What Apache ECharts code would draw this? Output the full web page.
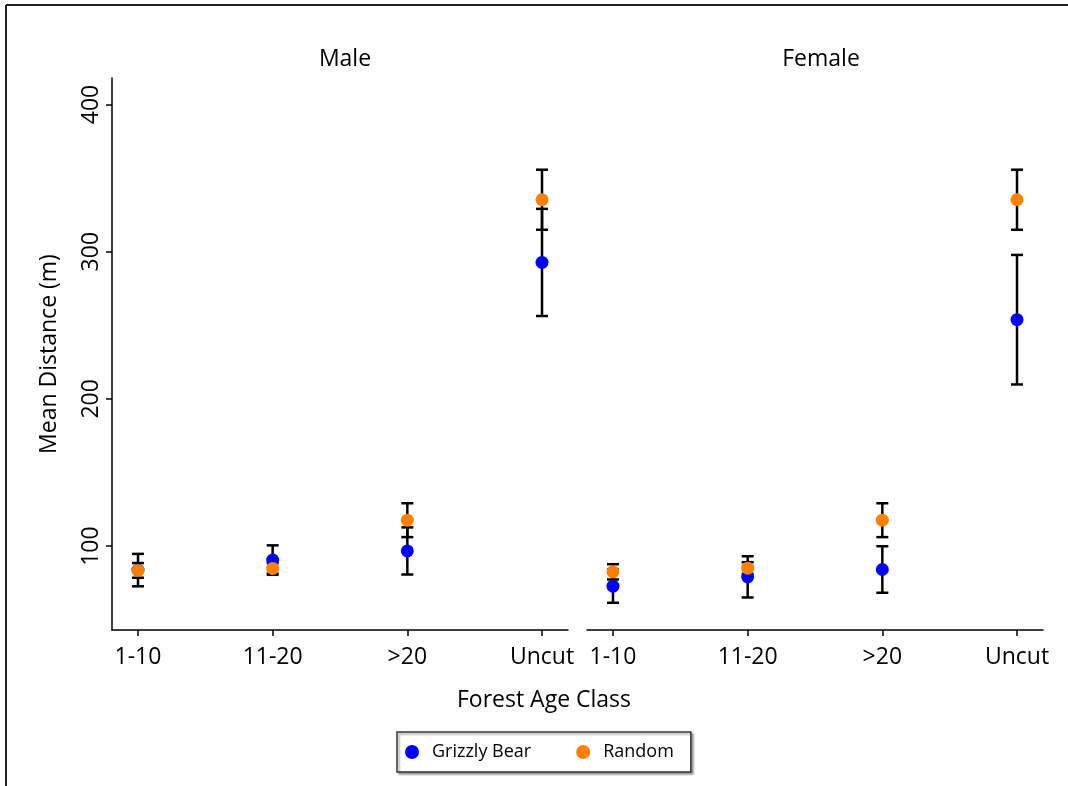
<!DOCTYPE html>
<html>
<head>
<meta charset="utf-8">
<script src="https://cdn.jsdelivr.net/npm/echarts@6/dist/echarts.min.js"></script>
<style>
html,body{margin:0;padding:0;background:#fff;}
#chart{width:1068px;height:786px;}
</style>
</head>
<body>
<div id="chart"></div>
<script>
const categories = ['1-10', '11-20', '>20', 'Uncut'];
const panelTitles = ['Male', 'Female'];
const yTicks = [100, 200, 300, 400];

const maleBear = [83.7, 90.5, 96.7, 292.7];
const maleBearErr = [11, 10, 16, 36.4];
const maleRandom = [83.5, 84.8, 117.6, 335.3];
const maleRandomErr = [5, 3.5, 11.5, 20.4];

const femaleBear = [72.8, 79.1, 84.1, 253.8];
const femaleBearErr = [11.3, 14, 15.8, 44];
const femaleRandom = [82.5, 85, 117.6, 335.3];
const femaleRandomErr = [5.2, 4, 11.5, 20.4];

const FONT = 'Open Sans';
const FS = 23;
const BLUE = '#0000FF';
const ORANGE = '#FF7F00';

function pts(vals) { return vals.map((v, i) => [i, v]); }
function errs(vals, e) { return vals.map((v, i) => [i, v - e[i], v + e[i]]); }

function errorRender(params, api) {
  const x = api.value(0);
  const lo = api.coord([x, api.value(1)]);
  const hi = api.coord([x, api.value(2)]);
  const cap = 6;
  const style = { stroke: '#000', lineWidth: 2.5 };
  return {
    type: 'group',
    children: [
      { type: 'line', shape: { x1: lo[0], y1: lo[1], x2: hi[0], y2: hi[1] }, style },
      { type: 'line', shape: { x1: lo[0] - cap, y1: lo[1], x2: lo[0] + cap, y2: lo[1] }, style },
      { type: 'line', shape: { x1: hi[0] - cap, y1: hi[1], x2: hi[0] + cap, y2: hi[1] }, style }
    ]
  };
}

const xAxisBase = {
  type: 'value',
  min: -0.193,
  max: 3.193,
  splitLine: { show: false },
  axisLine: { show: true, onZero: false, lineStyle: { color: '#000', width: 1.5 } },
  axisTick: { show: true, customValues: [0, 1, 2, 3], length: 6, lineStyle: { color: '#000', width: 1.5 } },
  axisLabel: {
    customValues: [0, 1, 2, 3],
    formatter: v => categories[Math.round(v)],
    color: '#000', fontFamily: FONT, fontSize: FS, margin: 16
  }
};

const yAxisBase = {
  type: 'value',
  min: 43,
  max: 418,
  splitLine: { show: false },
  axisLine: { show: true, onZero: false, lineStyle: { color: '#000', width: 1.5 } },
  axisTick: { show: true, customValues: yTicks, length: 6, lineStyle: { color: '#000', width: 1.5 } },
  axisLabel: {
    customValues: yTicks,
    rotate: 90,
    color: '#000', fontFamily: FONT, fontSize: FS, margin: 9
  }
};

const option = {
  backgroundColor: '#fff',
  animation: false,
  grid: [
    { left: 112, width: 456, top: 78, bottom: 156 },
    { left: 587, width: 456, top: 78, bottom: 156 }
  ],
  xAxis: [
    Object.assign({ gridIndex: 0 }, xAxisBase),
    Object.assign({ gridIndex: 1 }, xAxisBase)
  ],
  yAxis: [
    Object.assign({ gridIndex: 0, name: 'Mean Distance (m)', nameLocation: 'middle', nameGap: 51,
      nameTextStyle: { color: '#000', fontFamily: FONT, fontSize: FS } }, yAxisBase),
    Object.assign({}, yAxisBase, { gridIndex: 1, axisLine: { show: false }, axisTick: { show: false }, axisLabel: { show: false } })
  ],
  title: [
    { text: panelTitles[0], left: 340, top: 43, textAlign: 'center',
      textStyle: { color: '#000', fontFamily: FONT, fontSize: FS, fontWeight: 'normal' } },
    { text: panelTitles[1], left: 816, top: 43, textAlign: 'center',
      textStyle: { color: '#000', fontFamily: FONT, fontSize: FS, fontWeight: 'normal' } }
  ],
  legend: {
    left: 397, top: 732,
    padding: [11, 17, 11, 8],
    itemGap: 45,
    itemWidth: 14, itemHeight: 14,
    icon: 'circle',
    borderColor: '#333', borderWidth: 1.5,
    backgroundColor: '#fff',
    shadowColor: 'rgba(0,0,0,0.35)', shadowBlur: 2, shadowOffsetX: 2, shadowOffsetY: 2,
    textStyle: { color: '#000', fontFamily: FONT, fontSize: 18, padding: [0, 0, 0, 8] },
    data: ['Grizzly Bear', 'Random']
  },
  graphic: [
    { type: 'line', shape: { x1: 6, y1: 5, x2: 1068, y2: 5 }, style: { stroke: '#222', lineWidth: 2 } },
    { type: 'line', shape: { x1: 6, y1: 5, x2: 6, y2: 786 }, style: { stroke: '#222', lineWidth: 2 } },
    { type: 'text', x: 544, y: 700,
      style: { text: 'Forest Age Class', fill: '#000', font: FS + 'px "Open Sans"', textAlign: 'center', textVerticalAlign: 'middle' } }
  ],
  series: [
    { type: 'custom', xAxisIndex: 0, yAxisIndex: 0, renderItem: errorRender, data: errs(maleBear, maleBearErr), z: 2, silent: true },
    { type: 'custom', xAxisIndex: 0, yAxisIndex: 0, renderItem: errorRender, data: errs(maleRandom, maleRandomErr), z: 2, silent: true },
    { type: 'custom', xAxisIndex: 1, yAxisIndex: 1, renderItem: errorRender, data: errs(femaleBear, femaleBearErr), z: 2, silent: true },
    { type: 'custom', xAxisIndex: 1, yAxisIndex: 1, renderItem: errorRender, data: errs(femaleRandom, femaleRandomErr), z: 2, silent: true },
    { name: 'Grizzly Bear', type: 'scatter', xAxisIndex: 0, yAxisIndex: 0, data: pts(maleBear), symbolSize: 13, itemStyle: { color: BLUE, opacity: 1 }, z: 3 },
    { name: 'Grizzly Bear', type: 'scatter', xAxisIndex: 1, yAxisIndex: 1, data: pts(femaleBear), symbolSize: 13, itemStyle: { color: BLUE, opacity: 1 }, z: 3 },
    { name: 'Random', type: 'scatter', xAxisIndex: 0, yAxisIndex: 0, data: pts(maleRandom), symbolSize: 13, itemStyle: { color: ORANGE, opacity: 1 }, z: 4 },
    { name: 'Random', type: 'scatter', xAxisIndex: 1, yAxisIndex: 1, data: pts(femaleRandom), symbolSize: 13, itemStyle: { color: ORANGE, opacity: 1 }, z: 4 }
  ]
};

const chart = echarts.init(document.getElementById('chart'), null, { renderer: 'canvas' });
chart.setOption(option);
</script>
</body>
</html>
